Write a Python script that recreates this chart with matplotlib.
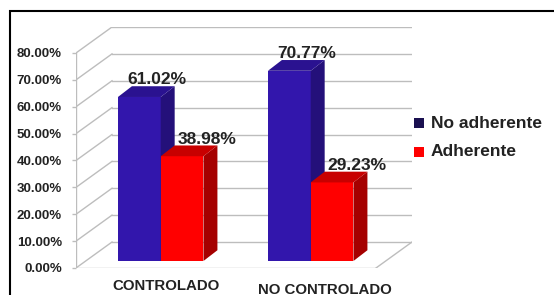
import matplotlib
matplotlib.use("Agg")
import matplotlib.pyplot as plt
from matplotlib.patches import Rectangle, Polygon

categories = ["CONTROLADO", "NO CONTROLADO"]
series_names = ["No adherente", "Adherente"]
no_adherente = [61.02, 70.77]
adherente = [38.98, 29.23]
yticks = [0, 10, 20, 30, 40, 50, 60, 70, 80]

W, H = 554, 295
fig = plt.figure(figsize=(W / 100, H / 100), dpi=100)
plt.rcParams['font.family'] = ['Liberation Sans', 'DejaVu Sans']

# axes covering front-left (76 px) to back-right (412 px), 0% (268 px) to back 80% (27 px)
L, R, B, T = 76, 412, 268, 27
ax = fig.add_axes([L / W, 1 - B / H, (R - L) / W, (B - T) / H])
DX, DY = 0.24, 9.67          # wall depth in data units
xmax = 2 + DX
ymax = 80 + DY
ax.set_xlim(0, xmax)
ax.set_ylim(0, ymax)
for s in ax.spines.values():
    s.set_visible(False)
ax.patch.set_alpha(0)

grid_c = "#BDBDBD"
# back wall gridlines and left wall diagonals
for v in yticks:
    ax.plot([DX, 2 + DX], [v + DY, v + DY], color=grid_c, lw=1, zorder=1)
    ax.plot([0, DX], [v, v + DY], color=grid_c, lw=1, zorder=1)
# front axis and floor
ax.plot([0, 0], [0, 80], color=grid_c, lw=1, zorder=1)
ax.plot([0, 2], [0, 0], color=grid_c, lw=1, zorder=1)
ax.plot([2, 2 + DX], [0, DY], color=grid_c, lw=1, zorder=1)

ax.set_yticks(yticks)
ax.set_yticklabels([f"{v:.2f}%" for v in yticks], fontsize=9.5, fontweight='bold', color="#222222")
ax.tick_params(axis='y', length=3, width=1, color=grid_c, pad=7)
ax.set_xticks([])

# bars
f = 0.27
sx, sy = f * DX, f * DY
ddx, ddy = 0.093, 4.0
bw = 0.285
series = [no_adherente, adherente]
cols = [("#3216AC", "#24107A", "#2A1290"), ("#FF0000", "#A50000", "#C80000")]
offs = [-bw / 2, bw / 2]
lab_dx = [0.18, 0.23]
for ci in range(len(categories)):
    for si, vals in enumerate(series):
        v = vals[ci]
        front, side, top = cols[si]
        cx = ci + 0.5 + offs[si] + sx
        x0, x1 = cx - bw / 2, cx + bw / 2
        ax.bar(cx, v, width=bw, bottom=sy, color=front, lw=0, zorder=3 + ci * 2 + si)
        ax.add_patch(Polygon([(x1, sy), (x1 + ddx, sy + ddy), (x1 + ddx, sy + v + ddy), (x1, sy + v)],
                             closed=True, facecolor=side, lw=0, zorder=3 + ci * 2 + si))
        ax.add_patch(Polygon([(x0, sy + v), (x0 + ddx, sy + v + ddy), (x1 + ddx, sy + v + ddy), (x1, sy + v)],
                             closed=True, facecolor=top, lw=0, zorder=3 + ci * 2 + si))
        ax.text(ci + 0.5 + offs[si] + lab_dx[si], v + 9.0, f"{v:.2f}%", ha='center', va='center',
                fontsize=12.5, fontweight='bold', color="#222222", zorder=10, clip_on=False)

# category labels
cat_dx = [0.1, 0.16]
cat_dy = [-6.7, -8.0]
for ci, c in enumerate(categories):
    ax.text(ci + 0.5 + cat_dx[ci], cat_dy[ci], c, ha='center', va='center', fontsize=10.8,
            fontweight='bold', color="#222222", clip_on=False)

# legend
leg_cols = ["#1A1050", "#FF0000"]
leg_y = [123, 152]
for name, col, yy in zip(series_names, leg_cols, leg_y):
    fig.patches.append(Rectangle((414 / W, 1 - (yy + 5) / H), 10 / W, 10 / H, transform=fig.transFigure,
                                 facecolor=col, edgecolor='none'))
    fig.text(431 / W, 1 - yy / H, name, ha='left', va='center', fontsize=12.5, fontweight='bold',
             color="#222222")

# chart border
fig.patches.append(Rectangle((10 / W, -0.05), 1.1, 1 - 11 / H + 0.05, transform=fig.transFigure,
                             facecolor='none', edgecolor='black', lw=1.5))

fig.savefig("out.png", dpi=100)
